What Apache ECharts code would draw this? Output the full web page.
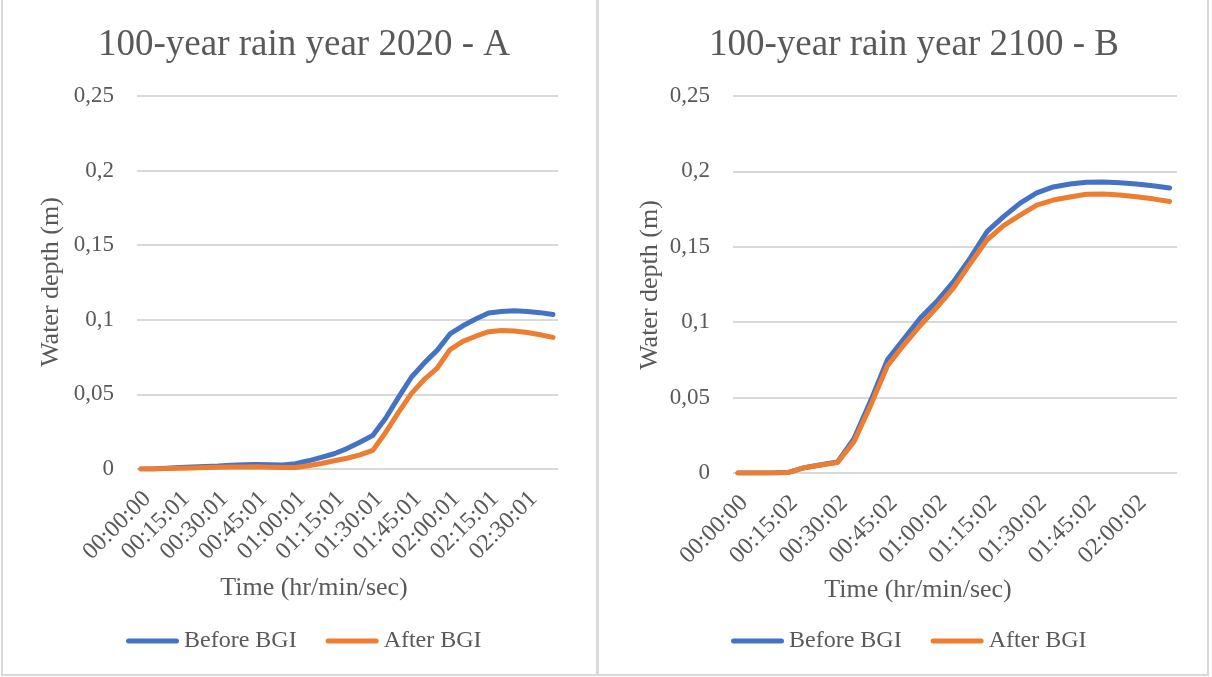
<!DOCTYPE html>
<html>
<head>
<meta charset="utf-8">
<script src="https://cdn.jsdelivr.net/npm/echarts@6/dist/echarts.min.js"></script>
<style>
  html, body { margin: 0; padding: 0; background: #fff; }
  #chart { width: 1212px; height: 677px; }
</style>
</head>
<body>
<div id="chart"></div>
<script>
// Panel A: 100-year rain, year 2020 (5-minute steps)
const timeA = ['00:00:00','00:05:01','00:10:01','00:15:01','00:20:01','00:25:01','00:30:01','00:35:01','00:40:01',
  '00:45:01','00:50:01','00:55:01','01:00:01','01:05:01','01:10:01','01:15:01','01:20:01','01:25:01','01:30:01',
  '01:35:01','01:40:01','01:45:01','01:50:01','01:55:01','02:00:01','02:05:01','02:10:01','02:15:01','02:20:01',
  '02:25:01','02:30:01','02:35:01','02:40:01'];
const beforeA = [0, 0, 0.0005, 0.001, 0.0013, 0.0017, 0.002, 0.0025, 0.0028, 0.003, 0.0028, 0.0027, 0.0035,
  0.0055, 0.0078, 0.0102, 0.0137, 0.018, 0.0225, 0.034, 0.048, 0.0615, 0.071, 0.0795, 0.0905, 0.096, 0.1005,
  0.1045, 0.1055, 0.106, 0.1055, 0.1048, 0.1035];
const afterA = [0, 0, 0.0003, 0.0005, 0.0007, 0.001, 0.0012, 0.0013, 0.0014, 0.0015, 0.0012, 0.001, 0.001,
  0.0022, 0.0037, 0.0055, 0.0072, 0.0095, 0.0125, 0.0245, 0.038, 0.0505, 0.06, 0.0675, 0.08, 0.0855, 0.089,
  0.092, 0.0928, 0.0925, 0.0915, 0.09, 0.0882];

// Panel B: 100-year rain, year 2100 (5-minute steps)
const timeB = ['00:00:00','00:05:02','00:10:02','00:15:02','00:20:02','00:25:02','00:30:02','00:35:02','00:40:02',
  '00:45:02','00:50:02','00:55:02','01:00:02','01:05:02','01:10:02','01:15:02','01:20:02','01:25:02','01:30:02',
  '01:35:02','01:40:02','01:45:02','01:50:02','01:55:02','02:00:02','02:05:02','02:10:02'];
const beforeB = [0, 0, 0, 0.0003, 0.0035, 0.0055, 0.0073, 0.023, 0.048, 0.075, 0.089, 0.103, 0.114, 0.127,
  0.1426, 0.16, 0.17, 0.179, 0.1857, 0.1897, 0.1916, 0.1928, 0.193, 0.1925, 0.1917, 0.1905, 0.189];
const afterB = [0, 0, 0, 0.0003, 0.0035, 0.0053, 0.007, 0.021, 0.045, 0.071, 0.085, 0.098, 0.11, 0.123,
  0.139, 0.1545, 0.164, 0.171, 0.1777, 0.181, 0.183, 0.1848, 0.185, 0.1843, 0.1832, 0.1818, 0.18];

// Every third step gets a tick label (15-minute spacing)
const labelStepsA = [0, 3, 6, 9, 12, 15, 18, 21, 24, 27, 30];
const labelStepsB = [0, 3, 6, 9, 12, 15, 18, 21, 24];

const seriesNames = ['Before BGI', 'After BGI'];
const titles = ['100-year rain year 2020 - A', '100-year rain year 2100 - B'];
const xName = 'Time (hr/min/sec)';
const yName = 'Water depth (m)';

const FONT = '"Liberation Serif", "Times New Roman", serif';
const TXT = '#595959';
const GRIDC = '#d9d9d9';
const BLUE = '#4472C4';
const ORANGE = '#ED7D31';
const legendIcon = 'path://M2.5,0 L50.5,0 A2.5,2.5 0 0 1 50.5,5 L2.5,5 A2.5,2.5 0 0 1 2.5,0 Z';

function fmtY(v) {
  return v === 0 ? '0' : String(+v.toFixed(2)).replace('.', ',');
}

function xAxisFor(gridIndex, times, steps, min, max) {
  return {
    type: 'value', gridIndex, min, max,
    axisLine: { show: false }, axisTick: { show: false }, splitLine: { show: false },
    axisLabel: {
      customValues: steps, rotate: 45, margin: 20,
      verticalAlign: 'top', lineHeight: 18,
      fontFamily: FONT, fontSize: 24, color: TXT,
      formatter: v => times[Math.round(v)]
    }
  };
}

function yAxisFor(gridIndex) {
  return {
    type: 'value', gridIndex, min: 0, max: 0.25, interval: 0.05,
    axisLine: { show: false }, axisTick: { show: false },
    splitLine: { lineStyle: { color: GRIDC, width: 2 } },
    axisLabel: { fontFamily: FONT, fontSize: 23, color: TXT, margin: 23, formatter: fmtY }
  };
}

function lineSeries(name, color, idx, times, vals) {
  return {
    type: 'line', name, xAxisIndex: idx, yAxisIndex: idx,
    data: times.map((t, i) => [i, vals[i]]),
    symbol: 'none', smooth: false, silent: true,
    lineStyle: { color, width: 5, cap: 'round', join: 'round' },
    itemStyle: { color }
  };
}

function legendFor(left) {
  return {
    left, top: 629, padding: 0, itemWidth: 53, itemHeight: 5, itemGap: 29,
    icon: legendIcon, data: seriesNames,
    textStyle: { fontFamily: FONT, fontSize: 24, color: TXT }
  };
}

const chart = echarts.init(document.getElementById('chart'), null, { renderer: 'canvas' });
chart.setOption({
  animation: false,
  backgroundColor: '#fff',
  title: [
    { text: titles[0], left: 299, top: 22, textAlign: 'center',
      textStyle: { fontFamily: FONT, fontSize: 37, fontWeight: 'normal', color: TXT } },
    { text: titles[1], left: 909, top: 22, textAlign: 'center',
      textStyle: { fontFamily: FONT, fontSize: 37, fontWeight: 'normal', color: TXT } }
  ],
  legend: [legendFor(126), legendFor(731)],
  grid: [
    { left: 137, top: 96, width: 421, height: 373 },
    { left: 733, top: 96, width: 444, height: 377 }
  ],
  xAxis: [
    xAxisFor(0, timeA, labelStepsA, -0.31, 32.39),
    xAxisFor(1, timeB, labelStepsB, -0.3, 26.45)
  ],
  yAxis: [yAxisFor(0), yAxisFor(1)],
  series: [
    lineSeries(seriesNames[0], BLUE, 0, timeA, beforeA),
    lineSeries(seriesNames[1], ORANGE, 0, timeA, afterA),
    lineSeries(seriesNames[0], BLUE, 1, timeB, beforeB),
    lineSeries(seriesNames[1], ORANGE, 1, timeB, afterB)
  ],
  graphic: [
    // panel frames
    { type: 'rect', shape: { x: 2, y: -5, width: 595, height: 680 }, silent: true,
      style: { fill: 'none', stroke: GRIDC, lineWidth: 2 }, z: -1 },
    { type: 'rect', shape: { x: 598, y: -5, width: 610, height: 680 }, silent: true,
      style: { fill: 'none', stroke: GRIDC, lineWidth: 2 }, z: -1 },
    // axis titles
    { type: 'text', x: 314, y: 588, silent: true,
      style: { text: xName, fontFamily: FONT, fontSize: 26, fill: TXT, align: 'center', verticalAlign: 'middle' } },
    { type: 'text', x: 918, y: 590, silent: true,
      style: { text: xName, fontFamily: FONT, fontSize: 26, fill: TXT, align: 'center', verticalAlign: 'middle' } },
    { type: 'text', x: 51, y: 282, rotation: Math.PI / 2, silent: true,
      style: { text: yName, fontFamily: FONT, fontSize: 26, fill: TXT, align: 'center', verticalAlign: 'middle' } },
    { type: 'text', x: 650, y: 285, rotation: Math.PI / 2, silent: true,
      style: { text: yName, fontFamily: FONT, fontSize: 26, fill: TXT, align: 'center', verticalAlign: 'middle' } }
  ]
});
</script>
</body>
</html>
